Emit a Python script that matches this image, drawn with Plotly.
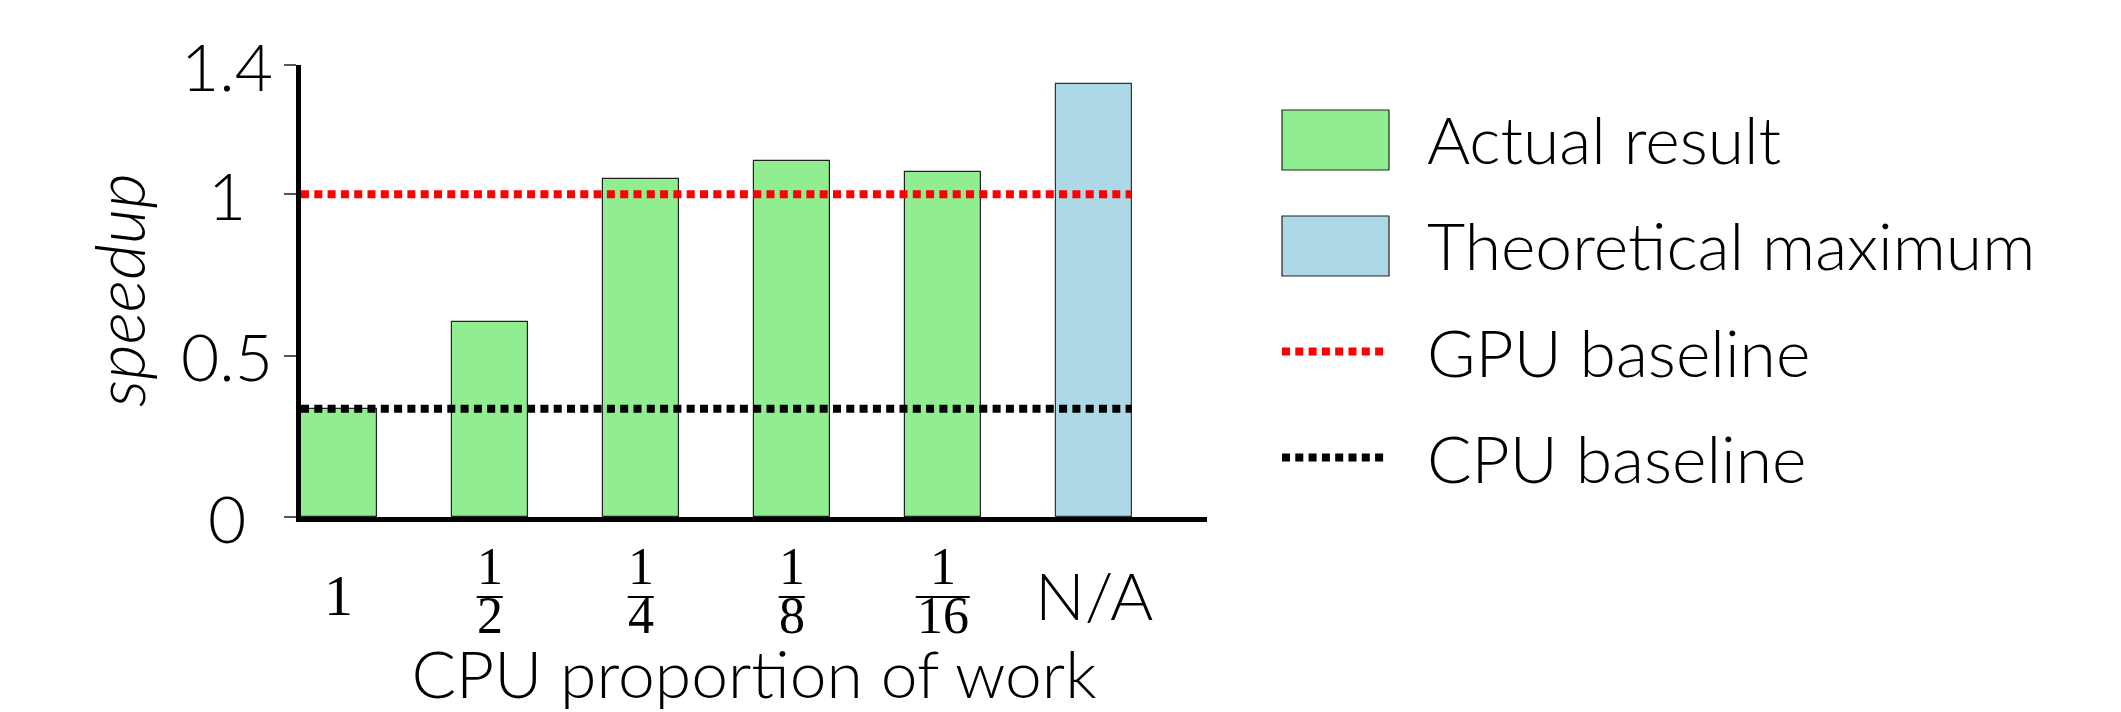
import plotly.graph_objects as go

# ---------------- data ----------------
categories = ["1", "1/2", "1/4", "1/8", "1/16", "N/A"]
actual_values = [0.333, 0.604, 1.046, 1.104, 1.070]
theoretical_values = [1.342]
gpu_baseline = 1.0
cpu_baseline = 0.335
y_tick_values = [0, 0.5, 1, 1.4]
y_tick_labels = ["0", "0.5", "1", "1.4"]
legend_labels = ["Actual result", "Theoretical maximum", "GPU baseline", "CPU baseline"]

# ---------------- layout helpers ----------------
W, H = 2121, 712
PL, PR, PT, PB = 301, 1207, 65, 517
BAR_W = 0.5
OFFSET = 0.25
UNIT_PX = (PR - PL) / len(categories)

def px_x(x):
    return (x - PL) / (PR - PL)

def px_y(y):
    return (PB - y) / (PB - PT)

SANS = "Lato"
SERIF = "Liberation Serif"
GREEN = "#90EE90"
BLUE = "#ADD8E6"
DASH = "8px,5.3px"
LW = 8
FS = 66

actual_x = [i + OFFSET for i in range(len(actual_values))]
theo_x = [len(actual_values) + i + OFFSET for i in range(len(theoretical_values))]
line_end = theo_x[-1] + BAR_W / 2

fig = go.Figure()
fig.add_trace(go.Bar(x=actual_x, y=actual_values, width=BAR_W, name=legend_labels[0],
                     marker=dict(color=GREEN, line=dict(color="#222", width=1.2))))
fig.add_trace(go.Bar(x=theo_x, y=theoretical_values, width=BAR_W, name=legend_labels[1],
                     marker=dict(color=BLUE, line=dict(color="#333", width=1.2))))
fig.add_trace(go.Scatter(x=[0, line_end], y=[gpu_baseline, gpu_baseline], mode="lines",
                         name=legend_labels[2], line=dict(color="red", width=LW, dash=DASH)))
fig.add_trace(go.Scatter(x=[0, line_end], y=[cpu_baseline, cpu_baseline], mode="lines",
                         name=legend_labels[3], line=dict(color="black", width=LW, dash=DASH)))

annotations = []
shapes = []

# x tick labels (fractions drawn as numerator / bar / denominator)
for i, lbl in enumerate(categories):
    xc = i + OFFSET
    parts = lbl.split("/")
    if len(parts) == 2 and all(p.isdigit() for p in parts):
        num, den = parts
        txt = (f"<span style='font-size:52px'>{num}</span><br>"
               f"<span style='font-size:52px'>{den}</span>")
        annotations.append(dict(x=xc, xref="x", y=px_y(591), yref="paper",
                                text=txt, showarrow=False,
                                xanchor="center", yanchor="middle",
                                font=dict(family=SERIF, size=38, color="black", weight=400)))
        half = (13 if len(den) == 1 else 27) / UNIT_PX
        shapes.append(dict(type="line", xref="x", yref="paper",
                           x0=xc - half, x1=xc + half, y0=px_y(597), y1=px_y(597),
                           line=dict(color="black", width=2)))
    elif lbl.isdigit():
        annotations.append(dict(x=xc, xref="x", y=px_y(595), yref="paper",
                                text=lbl, showarrow=False, xanchor="center", yanchor="middle",
                                font=dict(family=SERIF, size=58, color="black", weight=400)))
    else:
        annotations.append(dict(x=xc, xref="x", y=px_y(594), yref="paper",
                                text=lbl, showarrow=False, xanchor="center", yanchor="middle",
                                font=dict(family=SANS, size=FS, color="black", weight=300)))

# y tick labels (centred, as in the reference)
for v, t in zip(y_tick_values, y_tick_labels):
    annotations.append(dict(x=px_x(226.5), xref="paper", y=v, yref="y", text=t,
                            showarrow=False, xanchor="center", yanchor="middle",
                            font=dict(family=SANS, size=FS, color="black", weight=300)))

# y axis title
annotations.append(dict(x=px_x(118), xref="paper", y=px_y(290), yref="paper",
                        text="speedup", textangle=-90, showarrow=False,
                        xanchor="center", yanchor="middle",
                        font=dict(family=SANS, size=69, color="black", weight=300, style="italic")))

# manual legend
leg_rows = [138, 245, 351.5, 457.5]
SW_X0, SW_X1, LINE_X1, TXT_X = 1282, 1389, 1384, 1425
shapes.append(dict(type="rect", xref="paper", yref="paper",
                   x0=px_x(SW_X0), x1=px_x(SW_X1), y0=px_y(170), y1=px_y(110),
                   fillcolor=GREEN, line=dict(color="#222", width=1.2)))
shapes.append(dict(type="rect", xref="paper", yref="paper",
                   x0=px_x(SW_X0), x1=px_x(SW_X1), y0=px_y(276), y1=px_y(216),
                   fillcolor=BLUE, line=dict(color="#222", width=1.2)))
shapes.append(dict(type="line", xref="paper", yref="paper",
                   x0=px_x(SW_X0), x1=px_x(LINE_X1), y0=px_y(leg_rows[2]), y1=px_y(leg_rows[2]),
                   line=dict(color="red", width=LW, dash=DASH)))
shapes.append(dict(type="line", xref="paper", yref="paper",
                   x0=px_x(SW_X0), x1=px_x(LINE_X1), y0=px_y(leg_rows[3]), y1=px_y(leg_rows[3]),
                   line=dict(color="black", width=LW, dash=DASH)))
for lbl, yy in zip(legend_labels, leg_rows):
    annotations.append(dict(x=px_x(TXT_X), xref="paper", y=px_y(yy), yref="paper",
                            text=lbl, showarrow=False, xanchor="left", yanchor="middle",
                            font=dict(family=SANS, size=FS, color="black", weight=300)))

fig.update_layout(
    width=W, height=H,
    margin=dict(l=PL, r=W - PR, t=PT, b=H - PB, autoexpand=False),
    paper_bgcolor="white", plot_bgcolor="white",
    showlegend=False, bargap=0,
    font=dict(family=SANS, size=FS, color="black", weight=300),
    annotations=annotations, shapes=shapes,
)
fig.update_xaxes(range=[0, len(categories)], showline=True, linewidth=5, linecolor="black",
                 showgrid=False, zeroline=False, ticks="", showticklabels=False,
                 title=dict(text="CPU proportion of work", standoff=142,
                            font=dict(family=SANS, size=FS, weight=300)))
fig.update_yaxes(range=[0, 1.4], showline=True, linewidth=5, linecolor="black",
                 showgrid=False, zeroline=False, ticks="outside", ticklen=12, tickwidth=1.5,
                 tickcolor="#555", tickvals=y_tick_values, showticklabels=False)

fig.write_html("out.html", config={"displayModeBar": False},
               post_script="document.body.style.margin='0px';")
